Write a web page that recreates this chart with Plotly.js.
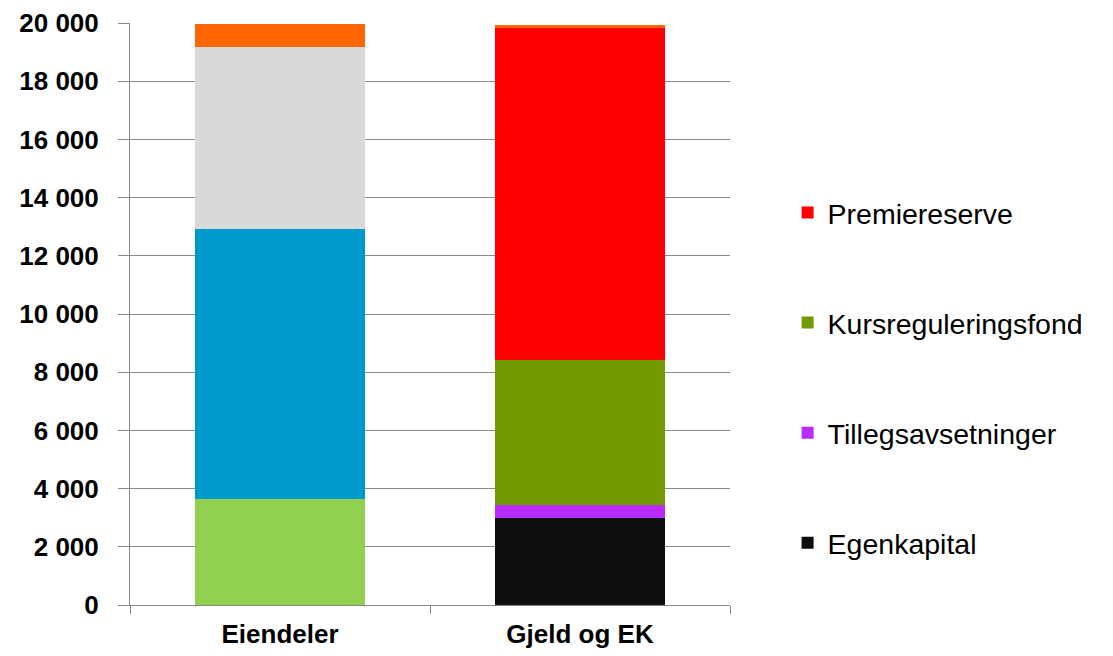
<!DOCTYPE html>
<html>
<head>
<meta charset="utf-8">
<script src="https://cdn.plot.ly/plotly-3.0.1.min.js"></script>
<style>html,body{margin:0;padding:0;background:#fff;}#chart{width:1113px;height:656px;}</style>
</head>
<body>
<div id="chart"></div>
<script>
// Categories
const categories = ["Eiendeler", "Gjeld og EK"];

// Gjeld og EK series (shown in legend)
const egenkapital        = [null, 3000];
const tillegsavsetninger = [null, 440];
const kursreguleringsfond= [null, 4980];
const premiereserve      = [null, 11420];

// Eiendeler series (not shown in legend)
const eiendelGronn = [3640, null];
const eiendelBla   = [9280, null];
const eiendelGra   = [6250, null];
// Top segment on both bars
const annet        = [800, 90];

// Y tick values
const yTicks = [0, 2000, 4000, 6000, 8000, 10000, 12000, 14000, 16000, 18000, 20000];

const FONT = "Liberation Sans, Arial, sans-serif";

function bar(name, y, color, showlegend, rank) {
  return {
    type: "bar", name: name, x: categories, y: y,
    marker: {color: color, line: {width: 0}},
    showlegend: showlegend, legendgroup: name, legendrank: rank,
    hoverinfo: "name+y"
  };
}

const data = [
  bar("Egenkapital", egenkapital, "#0D0D0D", true, 4),
  bar("Tillegsavsetninger", tillegsavsetninger, "#B92BFF", true, 3),
  bar("Kursreguleringsfond", kursreguleringsfond, "#739900", true, 2),
  bar("Premiereserve", premiereserve, "#FF0000", true, 1),
  bar("Eiendel 1", eiendelGronn, "#92D050", false, 5),
  bar("Eiendel 2", eiendelBla, "#0099CC", false, 6),
  bar("Eiendel 3", eiendelGra, "#D9D9D9", false, 7),
  bar("Annet", annet, "#FF6600", false, 8)
];

const layout = {
  width: 1113, height: 656,
  margin: {l: 130, r: 383, t: 23, b: 51, pad: 0},
  paper_bgcolor: "#fff", plot_bgcolor: "#fff",
  barmode: "stack", bargap: 0.433,
  separators: ", ",
  font: {family: FONT, color: "#000"},
  xaxis: {
    type: "category",
    showline: true, linecolor: "#888888", linewidth: 1,
    ticks: "outside", tickson: "boundaries", ticklen: 8, tickcolor: "#888888",
    tickfont: {family: FONT, size: 26, color: "#000", weight: "bold"},
    showgrid: false, zeroline: false,
    ticklabelstandoff: 6
  },
  yaxis: {
    range: [0, 20000],
    tickvals: yTicks, tickformat: ",",
    showline: true, linecolor: "#888888", linewidth: 1,
    ticks: "outside", ticklen: 11, tickcolor: "#888888",
    showgrid: true, gridcolor: "#888888", gridwidth: 1,
    zeroline: false,
    tickfont: {family: FONT, size: 26, color: "#000", weight: "bold"},
    ticklabelstandoff: 14
  },
  legend: {
    x: 1.096, xanchor: "left",
    y: 0.39, yanchor: "middle",
    traceorder: "grouped",
    tracegroupgap: 70,
    font: {family: FONT, size: 28.5, color: "#000"},
    itemwidth: 30,
    bgcolor: "rgba(0,0,0,0)"
  },
  showlegend: true
};

Plotly.newPlot("chart", data, layout, {displayModeBar: false, staticPlot: true});
</script>
</body>
</html>
